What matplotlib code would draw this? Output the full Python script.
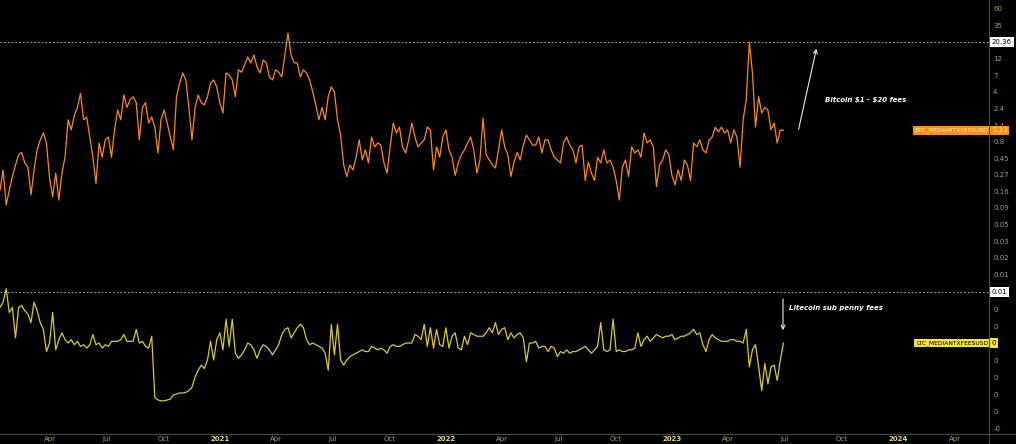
import matplotlib
matplotlib.use("Agg")
import matplotlib.pyplot as plt
import matplotlib.transforms as mtransforms
from matplotlib.lines import Line2D
import pandas as pd

# ---------------------------------------------------------------------------
# Data (one value every 5 days from 2020-01-11)
# ---------------------------------------------------------------------------
START_DATE = "2020-01-11"
STEP = "5D"

btc_fee_usd = [
    0.16, 0.31, 0.099, 0.16, 0.25, 0.365, 0.51, 0.55, 0.39, 0.34,
    0.137, 0.31, 0.60, 0.83, 1.04, 0.75, 0.24, 0.128, 0.28, 0.116,
    0.28, 0.47, 1.6, 1.15, 1.85, 2.4, 3.8, 1.6, 1.75, 0.91,
    0.47, 0.20, 0.75, 0.47, 0.83, 0.91, 0.47, 1.15, 2.2, 1.6,
    3.6, 2.4, 3.1, 3.4, 2.8, 0.83, 2.4, 2.8, 1.44, 1.75,
    1.26, 0.54, 1.6, 2.2, 1.44, 0.91, 0.60, 3.4, 5.3, 7.4,
    5.9, 2.4, 0.83, 2.4, 3.6, 2.8, 2.6, 3.4, 5.3, 5.9,
    4.7, 2.8, 2.0, 7.4, 6.9, 5.9, 3.4, 8.2, 7.6, 9.6,
    12.5, 10.3, 13.3, 9.0, 7.4, 11.3, 10.3, 6.5, 5.9, 8.2,
    7.6, 6.5, 13.3, 27.4, 13.3, 10.3, 10.3, 6.5, 8.2, 7.4,
    5.9, 4.0, 2.6, 1.6, 2.4, 1.6, 3.4, 4.7, 4.0, 1.6,
    0.97, 0.365, 0.25, 0.365, 0.31, 0.47, 0.83, 0.43, 0.60, 0.39,
    0.91, 0.66, 0.75, 0.70, 0.39, 0.28, 0.66, 1.44, 1.04, 1.26,
    0.66, 0.54, 0.83, 1.44, 0.91, 0.66, 0.75, 0.83, 1.26, 1.15,
    0.31, 0.66, 0.47, 0.91, 1.15, 0.60, 0.47, 0.26, 0.39, 0.51,
    0.60, 0.75, 0.91, 0.60, 0.28, 0.43, 1.7, 0.51, 0.43, 0.365,
    0.33, 0.60, 1.15, 0.66, 0.51, 0.25, 0.40, 0.55, 0.43, 0.70,
    0.97, 0.83, 0.70, 0.70, 0.91, 0.54, 0.83, 0.83, 0.60, 0.47,
    0.43, 0.39, 0.75, 0.91, 0.70, 0.60, 0.39, 0.66, 0.70, 0.22,
    0.40, 0.28, 0.22, 0.47, 0.39, 0.60, 0.39, 0.43, 0.34, 0.22,
    0.116, 0.34, 0.43, 0.25, 0.66, 0.54, 0.60, 0.47, 1.04, 0.75,
    0.83, 0.66, 0.18, 0.365, 0.43, 0.60, 0.51, 0.26, 0.19, 0.31,
    0.22, 0.43, 0.365, 0.22, 0.75, 0.66, 0.83, 0.60, 0.54, 0.83,
    0.91, 1.26, 1.08, 1.26, 1.04, 1.15, 0.75, 1.15, 0.91, 0.34,
    1.6, 3.1, 20.36, 7.4, 1.26, 3.4, 2.0, 2.4, 2.2, 1.15,
    1.44, 0.75, 1.15, 1.13,
]

ltc_fee_usd = [
    0.0061, 0.0064, 0.0072, 0.0058, 0.0061, 0.0043, 0.0061, 0.0062, 0.0059, 0.0057,
    0.0052, 0.0064, 0.0059, 0.0052, 0.0048, 0.0035, 0.0040, 0.0058, 0.0036, 0.0042,
    0.0046, 0.0042, 0.0040, 0.0042, 0.0039, 0.0041, 0.0038, 0.0039, 0.0037, 0.0039,
    0.0045, 0.0039, 0.0040, 0.0037, 0.0039, 0.0038, 0.0041, 0.0041, 0.0041, 0.0042,
    0.0045, 0.0041, 0.0041, 0.0041, 0.0048, 0.0040, 0.0041, 0.0038, 0.0037, 0.0044,
    0.0008, 0.00065, 0.0006, 0.0006, 0.00065, 0.0007, 0.00094, 0.0010, 0.00106, 0.00106,
    0.0011, 0.0012, 0.0014, 0.0020, 0.0024, 0.0027, 0.0025, 0.0030, 0.0041, 0.0030,
    0.0042, 0.0046, 0.0036, 0.0054, 0.0038, 0.0054, 0.0034, 0.0031, 0.0033, 0.0036,
    0.0040, 0.0039, 0.0036, 0.0031, 0.0036, 0.0039, 0.0038, 0.0036, 0.0033, 0.0036,
    0.0039, 0.0045, 0.0048, 0.0049, 0.0043, 0.0046, 0.0049, 0.0051, 0.0049, 0.0042,
    0.0039, 0.0040, 0.0039, 0.0038, 0.0037, 0.0034, 0.0024, 0.0051, 0.0033, 0.0051,
    0.0030, 0.0027, 0.0030, 0.0032, 0.0033, 0.0034, 0.0035, 0.0036, 0.0035, 0.0035,
    0.0038, 0.0037, 0.0036, 0.0037, 0.0036, 0.0034, 0.0038, 0.0039, 0.0038, 0.0038,
    0.0039, 0.0040, 0.0040, 0.0040, 0.0045, 0.0044, 0.0042, 0.0051, 0.0038, 0.0049,
    0.0037, 0.0048, 0.0039, 0.0038, 0.0049, 0.0037, 0.0044, 0.0046, 0.0037, 0.0036,
    0.0044, 0.0039, 0.0046, 0.0045, 0.0044, 0.0044, 0.0044, 0.0046, 0.0049, 0.0046,
    0.0052, 0.0045, 0.0048, 0.0049, 0.0042, 0.0046, 0.0043, 0.0045, 0.0046, 0.0043,
    0.0029, 0.0040, 0.0040, 0.0041, 0.0037, 0.0038, 0.0038, 0.0035, 0.0038, 0.0037,
    0.0032, 0.0035, 0.0034, 0.0036, 0.0034, 0.0035, 0.0035, 0.0036, 0.0037, 0.0038,
    0.0036, 0.0034, 0.0036, 0.0038, 0.0052, 0.0036, 0.0035, 0.0036, 0.0054, 0.0035,
    0.0036, 0.0035, 0.0035, 0.0036, 0.0036, 0.0037, 0.0046, 0.0038, 0.0042, 0.0044,
    0.0041, 0.0043, 0.0045, 0.0044, 0.0043, 0.0044, 0.0044, 0.0045, 0.0042, 0.0043,
    0.0044, 0.0044, 0.0045, 0.0046, 0.0048, 0.0045, 0.0046, 0.0039, 0.0035, 0.0042,
    0.0045, 0.0043, 0.0042, 0.0041, 0.0041, 0.0041, 0.0042, 0.0042, 0.0041, 0.0041,
    0.0040, 0.0048, 0.0026, 0.0036, 0.0039, 0.0026, 0.0012, 0.0028, 0.0016, 0.0026,
    0.0027, 0.0018, 0.0030, 0.0040,
]

btc_level = 20.36
ltc_level = 0.007

btc_tick_labels = ["60", "35", "", "12", "7", "4", "2.4", "1.4", "0.8", "0.45",
                   "0.27", "0.16", "0.09", "0.05", "0.03", "0.02", "0.01"]
ltc_ticks = [-0.001, 0.0, 0.001, 0.002, 0.003, 0.004, 0.005, 0.006]
ltc_tick_labels = ["-0", "0", "0", "0", "0", "", "0", "0"]

# ---------------------------------------------------------------------------
# Colours
# ---------------------------------------------------------------------------
BG = "#000000"
BTC_COLOR = "#f28b26"
LTC_COLOR = "#d8c93c"
TICK_COLOR = "#aea05a"
YEAR_COLOR = "#e8d97c"
AXIS_LINE = "#4a4a4a"
FONT = "DejaVu Sans"


def main() -> None:
    btc_dates = pd.date_range(START_DATE, periods=len(btc_fee_usd), freq=STEP)
    ltc_dates = pd.date_range(START_DATE, periods=len(ltc_fee_usd), freq=STEP)

    fig = plt.figure(figsize=(10.16, 4.44), dpi=100)
    fig.patch.set_facecolor(BG)

    right = 989 / 1016
    split = 1 - 283 / 444
    bottom = 1 - 434 / 444
    ax_top = fig.add_axes([0, split, right, 1 - split])
    ax_bot = fig.add_axes([0, bottom, right, split - bottom], sharex=ax_top)

    for ax in (ax_top, ax_bot):
        ax.set_facecolor(BG)
        for s in ax.spines.values():
            s.set_visible(False)
        ax.yaxis.tick_right()
        ax.tick_params(axis="y", length=0, pad=3, labelsize=5, labelcolor=TICK_COLOR)
        ax.tick_params(axis="x", length=0)

    # ── BTC (log scale) ──────────────────────────────────────────────────
    ax_top.plot(btc_dates, btc_fee_usd, color=BTC_COLOR, lw=0.9)
    ax_top.set_yscale("log")
    ax_top.set_ylim(0.00769, 80.5)
    ax_top.axhline(btc_level, color="#c8c8c8", lw=0.6, ls=(0, (2, 2.5)))
    btc_ticks = [60 / 1.72 ** k for k in range(len(btc_tick_labels))]
    ax_top.set_yticks(btc_ticks)
    ax_top.set_yticklabels(btc_tick_labels)
    ax_top.yaxis.set_minor_locator(matplotlib.ticker.NullLocator())
    ax_top.tick_params(axis="x", labelbottom=False)

    # ── LTC (linear scale) ───────────────────────────────────────────────
    ax_bot.plot(ltc_dates, ltc_fee_usd, color=LTC_COLOR, lw=0.9)
    ax_bot.set_ylim(-0.00135, 0.00753)
    ax_bot.axhline(ltc_level, color="#c8c8c8", lw=0.6, ls=(0, (2, 2.5)))
    ax_bot.set_yticks(ltc_ticks)
    ax_bot.set_yticklabels(ltc_tick_labels)

    # x axis: quarter ticks, years highlighted
    xticks = pd.date_range("2020-04-01", "2024-04-01", freq="QS")
    xlabels = [str(d.year) if d.month == 1 else d.strftime("%b") for d in xticks]
    ax_bot.set_xticks(xticks)
    ax_bot.set_xticklabels(xlabels)
    ax_bot.tick_params(axis="x", labelsize=5, pad=1.5, labelcolor=TICK_COLOR)
    for lbl in ax_bot.get_xticklabels():
        if lbl.get_text().isdigit():
            lbl.set_color(YEAR_COLOR)
            lbl.set_fontweight("bold")
    ax_bot.set_xlim(pd.Timestamp("2020-01-11"), pd.Timestamp("2024-05-26"))

    # ── Price-scale labels ───────────────────────────────────────────────
    def scale_box(ax, y, text, fc, tc, side="right", size=5):
        trans = mtransforms.blended_transform_factory(ax.transAxes, ax.transData)
        x = 0.999 if side == "right" else 1.003
        ha = "right" if side == "right" else "left"
        ax.text(x, y, text, transform=trans, ha=ha, va="center", fontsize=size,
                color=tc, family=FONT, clip_on=False, zorder=10,
                bbox=dict(boxstyle="square,pad=0.25", fc=fc, ec="none"))

    scale_box(ax_top, btc_level, "20.36", "#ffffff", "#000000", side="left")
    scale_box(ax_top, btc_fee_usd[-1], "BTC_MEDIANTXFEESUSD", "#f7931a", "#ffe9d2", size=4.3)
    scale_box(ax_top, btc_fee_usd[-1], f"{btc_fee_usd[-1]:.2f}", "#f7931a", "#ffe9d2", side="left")
    scale_box(ax_bot, ltc_level, "0.01", "#ffffff", "#000000", side="left")
    scale_box(ax_bot, ltc_fee_usd[-1], "LTC_MEDIANTXFEESUSD", "#f2e33c", "#000000", size=4.3)
    scale_box(ax_bot, ltc_fee_usd[-1], "0", "#f2e33c", "#000000", side="left")

    # ── Annotations ──────────────────────────────────────────────────────
    arrow = dict(arrowstyle="->", color="#e8e8e8", lw=0.8, mutation_scale=7)
    fig.add_artist(plt.Annotation("", xy=(817 / 1016, 1 - 46 / 444),
                                  xytext=(798 / 1016, 1 - 132 / 444),
                                  xycoords="figure fraction", arrowprops=arrow))
    fig.text(866 / 1016, 1 - 100 / 444, r"Bitcoin \$1 - \$20 fees", color="white",
             fontsize=5, style="italic", fontweight="bold", ha="center", va="center")
    fig.add_artist(plt.Annotation("", xy=(783 / 1016, 1 - 333 / 444),
                                  xytext=(783 / 1016, 1 - 296 / 444),
                                  xycoords="figure fraction", arrowprops=arrow))
    fig.text(836 / 1016, 1 - 308 / 444, "Litecoin sub penny fees", color="white",
             fontsize=5, style="italic", fontweight="bold", ha="center", va="center")

    # ── Frame lines ──────────────────────────────────────────────────────
    fig.add_artist(Line2D([right, right], [0, 1], color=AXIS_LINE, lw=0.8,
                          transform=fig.transFigure))
    fig.add_artist(Line2D([0, 1], [bottom, bottom], color=AXIS_LINE, lw=0.8,
                          transform=fig.transFigure))

    fig.savefig("out.png", dpi=100, facecolor=BG)
    plt.close(fig)


if __name__ == "__main__":
    main()
